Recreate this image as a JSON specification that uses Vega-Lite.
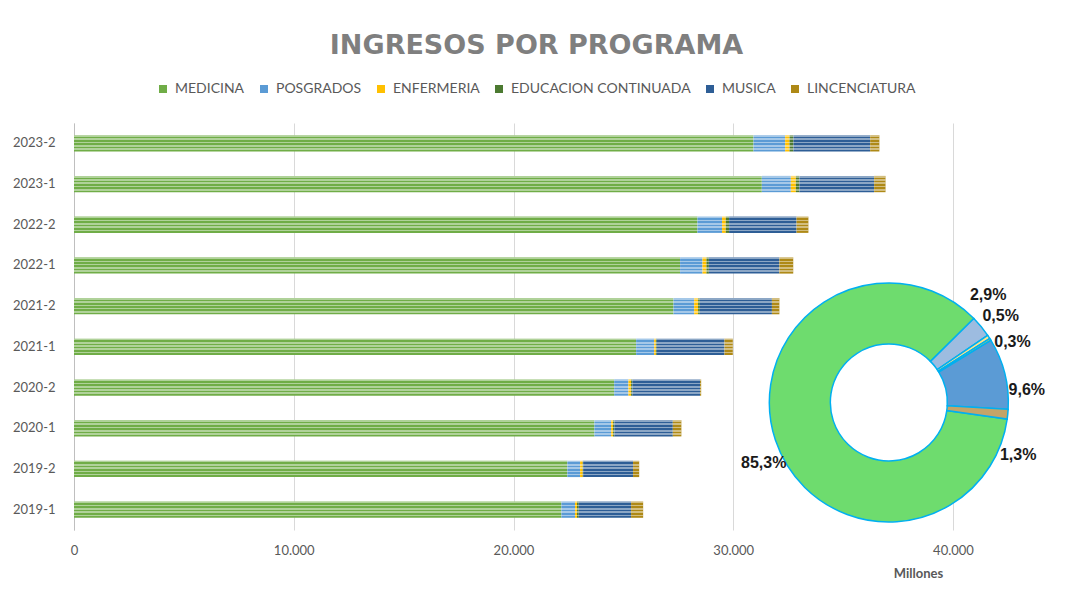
{
  "$schema": "https://vega.github.io/schema/vega-lite/v6.json",
  "autosize": {"type": "none"},
  "padding": {"left": 74, "top": 123, "right": 123, "bottom": 74},
  "width": 879,
  "height": 407,
  "background": "white",
  "title": {
    "text": "INGRESOS POR PROGRAMA",
    "font": "DejaVu Sans",
    "fontSize": 27,
    "fontWeight": "bold",
    "color": "#7F7F7F",
    "anchor": "middle",
    "frame": "group",
    "dx": 23,
    "offset": 22
  },
  "datasets": {
    "barras": [
      {"periodo": "2023-2", "programa": "MEDICINA", "valor": 30920, "orden": 1},
      {"periodo": "2023-2", "programa": "POSGRADOS", "valor": 1440, "orden": 2},
      {"periodo": "2023-2", "programa": "ENFERMERIA", "valor": 200, "orden": 3},
      {"periodo": "2023-2", "programa": "EDUCACION CONTINUADA", "valor": 180, "orden": 4},
      {"periodo": "2023-2", "programa": "MUSICA", "valor": 3490, "orden": 5},
      {"periodo": "2023-2", "programa": "LINCENCIATURA", "valor": 420, "orden": 6},
      {"periodo": "2023-1", "programa": "MEDICINA", "valor": 31300, "orden": 1},
      {"periodo": "2023-1", "programa": "POSGRADOS", "valor": 1320, "orden": 2},
      {"periodo": "2023-1", "programa": "ENFERMERIA", "valor": 230, "orden": 3},
      {"periodo": "2023-1", "programa": "EDUCACION CONTINUADA", "valor": 160, "orden": 4},
      {"periodo": "2023-1", "programa": "MUSICA", "valor": 3400, "orden": 5},
      {"periodo": "2023-1", "programa": "LINCENCIATURA", "valor": 520, "orden": 6},
      {"periodo": "2022-2", "programa": "MEDICINA", "valor": 28370, "orden": 1},
      {"periodo": "2022-2", "programa": "POSGRADOS", "valor": 1120, "orden": 2},
      {"periodo": "2022-2", "programa": "ENFERMERIA", "valor": 170, "orden": 3},
      {"periodo": "2022-2", "programa": "EDUCACION CONTINUADA", "valor": 150, "orden": 4},
      {"periodo": "2022-2", "programa": "MUSICA", "valor": 3070, "orden": 5},
      {"periodo": "2022-2", "programa": "LINCENCIATURA", "valor": 540, "orden": 6},
      {"periodo": "2022-1", "programa": "MEDICINA", "valor": 27580, "orden": 1},
      {"periodo": "2022-1", "programa": "POSGRADOS", "valor": 1020, "orden": 2},
      {"periodo": "2022-1", "programa": "ENFERMERIA", "valor": 180, "orden": 3},
      {"periodo": "2022-1", "programa": "EDUCACION CONTINUADA", "valor": 110, "orden": 4},
      {"periodo": "2022-1", "programa": "MUSICA", "valor": 3210, "orden": 5},
      {"periodo": "2022-1", "programa": "LINCENCIATURA", "valor": 630, "orden": 6},
      {"periodo": "2021-2", "programa": "MEDICINA", "valor": 27280, "orden": 1},
      {"periodo": "2021-2", "programa": "POSGRADOS", "valor": 940, "orden": 2},
      {"periodo": "2021-2", "programa": "ENFERMERIA", "valor": 180, "orden": 3},
      {"periodo": "2021-2", "programa": "EDUCACION CONTINUADA", "valor": 80, "orden": 4},
      {"periodo": "2021-2", "programa": "MUSICA", "valor": 3280, "orden": 5},
      {"periodo": "2021-2", "programa": "LINCENCIATURA", "valor": 340, "orden": 6},
      {"periodo": "2021-1", "programa": "MEDICINA", "valor": 25580, "orden": 1},
      {"periodo": "2021-1", "programa": "POSGRADOS", "valor": 820, "orden": 2},
      {"periodo": "2021-1", "programa": "ENFERMERIA", "valor": 80, "orden": 3},
      {"periodo": "2021-1", "programa": "EDUCACION CONTINUADA", "valor": 40, "orden": 4},
      {"periodo": "2021-1", "programa": "MUSICA", "valor": 3080, "orden": 5},
      {"periodo": "2021-1", "programa": "LINCENCIATURA", "valor": 380, "orden": 6},
      {"periodo": "2020-2", "programa": "MEDICINA", "valor": 24580, "orden": 1},
      {"periodo": "2020-2", "programa": "POSGRADOS", "valor": 650, "orden": 2},
      {"periodo": "2020-2", "programa": "ENFERMERIA", "valor": 120, "orden": 3},
      {"periodo": "2020-2", "programa": "EDUCACION CONTINUADA", "valor": 60, "orden": 4},
      {"periodo": "2020-2", "programa": "MUSICA", "valor": 3080, "orden": 5},
      {"periodo": "2020-2", "programa": "LINCENCIATURA", "valor": 50, "orden": 6},
      {"periodo": "2020-1", "programa": "MEDICINA", "valor": 23680, "orden": 1},
      {"periodo": "2020-1", "programa": "POSGRADOS", "valor": 760, "orden": 2},
      {"periodo": "2020-1", "programa": "ENFERMERIA", "valor": 90, "orden": 3},
      {"periodo": "2020-1", "programa": "EDUCACION CONTINUADA", "valor": 60, "orden": 4},
      {"periodo": "2020-1", "programa": "MUSICA", "valor": 2660, "orden": 5},
      {"periodo": "2020-1", "programa": "LINCENCIATURA", "valor": 390, "orden": 6},
      {"periodo": "2019-2", "programa": "MEDICINA", "valor": 22450, "orden": 1},
      {"periodo": "2019-2", "programa": "POSGRADOS", "valor": 580, "orden": 2},
      {"periodo": "2019-2", "programa": "ENFERMERIA", "valor": 120, "orden": 3},
      {"periodo": "2019-2", "programa": "EDUCACION CONTINUADA", "valor": 20, "orden": 4},
      {"periodo": "2019-2", "programa": "MUSICA", "valor": 2270, "orden": 5},
      {"periodo": "2019-2", "programa": "LINCENCIATURA", "valor": 280, "orden": 6},
      {"periodo": "2019-1", "programa": "MEDICINA", "valor": 22180, "orden": 1},
      {"periodo": "2019-1", "programa": "POSGRADOS", "valor": 620, "orden": 2},
      {"periodo": "2019-1", "programa": "ENFERMERIA", "valor": 90, "orden": 3},
      {"periodo": "2019-1", "programa": "EDUCACION CONTINUADA", "valor": 80, "orden": 4},
      {"periodo": "2019-1", "programa": "MUSICA", "valor": 2380, "orden": 5},
      {"periodo": "2019-1", "programa": "LINCENCIATURA", "valor": 550, "orden": 6}
    ],
    "torta": [
      {"programa": "MEDICINA", "pct": 85.3, "etiqueta": "85,3%", "orden": 1},
      {"programa": "POSGRADOS", "pct": 2.9, "etiqueta": "2,9%", "orden": 2},
      {"programa": "ENFERMERIA", "pct": 0.5, "etiqueta": "0,5%", "orden": 3},
      {"programa": "EDUCACION CONTINUADA", "pct": 0.3, "etiqueta": "0,3%", "orden": 4},
      {"programa": "MUSICA", "pct": 9.6, "etiqueta": "9,6%", "orden": 5},
      {"programa": "LINCENCIATURA", "pct": 1.3, "etiqueta": "1,3%", "orden": 6}
    ]
  },
  "layer": [
    {
      "data": {"name": "barras"},
      "layer": [
        {
          "mark": {"type": "bar"},
          "encoding": {
            "y": {"field": "periodo", "type": "nominal", "sort": "descending", "scale": {"paddingInner": 0.6, "paddingOuter": 0.3}, "title": null},
            "x": {
              "field": "valor", "type": "quantitative", "stack": "zero",
              "scale": {"domain": [0, 40000], "nice": false},
              "title": "Millones",
              "axis": {"values": [0, 10000, 20000, 30000, 40000], "labelFlush": false}
            },
            "color": {
              "field": "programa",
              "type": "nominal",
              "scale": {
                "domain": ["MEDICINA", "POSGRADOS", "ENFERMERIA", "EDUCACION CONTINUADA", "MUSICA", "LINCENCIATURA"],
                "range": ["#70AD47", "#5B9BD5", "#FFC000", "#4C7A31", "#2E5E96", "#AE8916"]
              },
              "legend": {
                "orient": "none",
                "direction": "horizontal",
                "legendX": 82,
                "legendY": -41,
                "title": null,
                "symbolType": "square",
                "symbolSize": 64,
                "symbolStrokeWidth": 0,
                "labelFont": "Lato",
                "labelFontSize": 14,
                "labelColor": "#595959",
                "labelOffset": 5,
                "columnPadding": 12,
                "labelLimit": 300
              }
            },
            "order": {"field": "orden", "type": "quantitative"}
          }
        },
        {
          "mark": {
            "type": "bar",
            "color": {
              "gradient": "linear",
              "x1": 0, "y1": 0, "x2": 0, "y2": 1,
              "stops": [
                {"offset": 0, "color": "rgba(255,255,255,0.45)"},
                {"offset": 0.1, "color": "rgba(255,255,255,0.45)"},
                {"offset": 0.1, "color": "rgba(255,255,255,0)"},
                {"offset": 0.2, "color": "rgba(255,255,255,0)"},
                {"offset": 0.2, "color": "rgba(255,255,255,0.45)"},
                {"offset": 0.3, "color": "rgba(255,255,255,0.45)"},
                {"offset": 0.3, "color": "rgba(255,255,255,0)"},
                {"offset": 0.4, "color": "rgba(255,255,255,0)"},
                {"offset": 0.4, "color": "rgba(255,255,255,0.45)"},
                {"offset": 0.5, "color": "rgba(255,255,255,0.45)"},
                {"offset": 0.5, "color": "rgba(255,255,255,0)"},
                {"offset": 0.6, "color": "rgba(255,255,255,0)"},
                {"offset": 0.6, "color": "rgba(255,255,255,0.45)"},
                {"offset": 0.7, "color": "rgba(255,255,255,0.45)"},
                {"offset": 0.7, "color": "rgba(255,255,255,0)"},
                {"offset": 0.8, "color": "rgba(255,255,255,0)"},
                {"offset": 0.8, "color": "rgba(255,255,255,0.45)"},
                {"offset": 0.9, "color": "rgba(255,255,255,0.45)"},
                {"offset": 0.9, "color": "rgba(255,255,255,0)"},
                {"offset": 1, "color": "rgba(255,255,255,0)"}
              ]
            }
          },
          "encoding": {
            "y": {"field": "periodo", "type": "nominal", "sort": "descending", "scale": {"paddingInner": 0.6, "paddingOuter": 0.3}, "title": null},
            "x": {"aggregate": "sum", "field": "valor", "type": "quantitative", "title": "Millones", "axis": {"values": [0, 10000, 20000, 30000, 40000], "labelFlush": false}}
          }
        }
      ]
    },
    {
      "data": {"name": "torta"},
      "encoding": {
        "x": {"datum": 37080, "type": "quantitative", "title": "Millones", "axis": {"values": [0, 10000, 20000, 30000, 40000], "labelFlush": false}},
        "y": {"datum": 0.3133, "type": "quantitative", "scale": {"domain": [0, 1]}, "axis": null},
        "theta": {"field": "pct", "type": "quantitative", "stack": true, "scale": {"range": [1.71, 7.9932]}},
        "order": {"field": "orden", "type": "quantitative"}
      },
      "layer": [
        {
          "mark": {"type": "arc", "outerRadius": 119.5, "innerRadius": 58.5, "stroke": "#00B0F0", "strokeWidth": 1.5},
          "encoding": {
            "color": {
              "field": "programa",
              "type": "nominal",
              "scale": {
                "domain": ["MEDICINA", "POSGRADOS", "ENFERMERIA", "EDUCACION CONTINUADA", "MUSICA", "LINCENCIATURA"],
                "range": ["#6EDC6E", "#9DBCE0", "#FFE38A", "#9BC87F", "#5B9BD5", "#C4A468"]
              },
              "legend": null
            }
          }
        },
        {
          "mark": {"type": "text", "radius": 135, "dx": 3, "dy": 18, "font": "Liberation Sans", "fontSize": 16, "fontWeight": "bold", "color": "#1A1A1A", "align": "center", "baseline": "middle"},
          "encoding": {"text": {"condition": {"test": "datum.programa == 'MEDICINA'", "field": "etiqueta"}, "value": ""}}
        },
        {
          "mark": {"type": "text", "radius": 135, "dx": -5, "dy": -22, "font": "Liberation Sans", "fontSize": 16, "fontWeight": "bold", "color": "#1A1A1A", "align": "center", "baseline": "middle"},
          "encoding": {"text": {"condition": {"test": "datum.programa == 'POSGRADOS'", "field": "etiqueta"}, "value": ""}}
        },
        {
          "mark": {"type": "text", "radius": 135, "dx": -1, "dy": -12, "font": "Liberation Sans", "fontSize": 16, "fontWeight": "bold", "color": "#1A1A1A", "align": "center", "baseline": "middle"},
          "encoding": {"text": {"condition": {"test": "datum.programa == 'ENFERMERIA'", "field": "etiqueta"}, "value": ""}}
        },
        {
          "mark": {"type": "text", "radius": 135, "dx": 9, "dy": 11, "font": "Liberation Sans", "fontSize": 16, "fontWeight": "bold", "color": "#1A1A1A", "align": "center", "baseline": "middle"},
          "encoding": {"text": {"condition": {"test": "datum.programa == 'EDUCACION CONTINUADA'", "field": "etiqueta"}, "value": ""}}
        },
        {
          "mark": {"type": "text", "radius": 135, "dx": 7, "dy": 20, "font": "Liberation Sans", "fontSize": 16, "fontWeight": "bold", "color": "#1A1A1A", "align": "center", "baseline": "middle"},
          "encoding": {"text": {"condition": {"test": "datum.programa == 'MUSICA'", "field": "etiqueta"}, "value": ""}}
        },
        {
          "mark": {"type": "text", "radius": 135, "dx": -5, "dy": 39, "font": "Liberation Sans", "fontSize": 16, "fontWeight": "bold", "color": "#1A1A1A", "align": "center", "baseline": "middle"},
          "encoding": {"text": {"condition": {"test": "datum.programa == 'LINCENCIATURA'", "field": "etiqueta"}, "value": ""}}
        }
      ]
    }
  ],
  "resolve": {"scale": {"y": "independent", "color": "independent"}},
  "config": {
    "view": {"stroke": null},
    "axisY": {
      "domainColor": "#BFBFBF",
      "domainWidth": 1,
      "ticks": false,
      "grid": false,
      "labelPadding": 19,
      "labelFont": "Lato",
      "labelFontSize": 13,
      "labelColor": "#595959"
    },
    "axisX": {
      "grid": true,
      "gridColor": "#D9D9D9",
      "domain": false,
      "ticks": false,
      "labelOverlap": false,
      "labelFlush": false,
      "labelExpr": "replace(format(datum.value, ','), ',', '.')",
      "labelPadding": 14,
      "labelFont": "Lato",
      "labelFontSize": 13,
      "labelColor": "#595959",
      "titleFont": "Lato",
      "titleFontSize": 13,
      "titleFontWeight": "bold",
      "titleColor": "#595959",
      "titleX": 844,
      "titleAlign": "center",
      "titlePadding": 10
    }
  }
}
